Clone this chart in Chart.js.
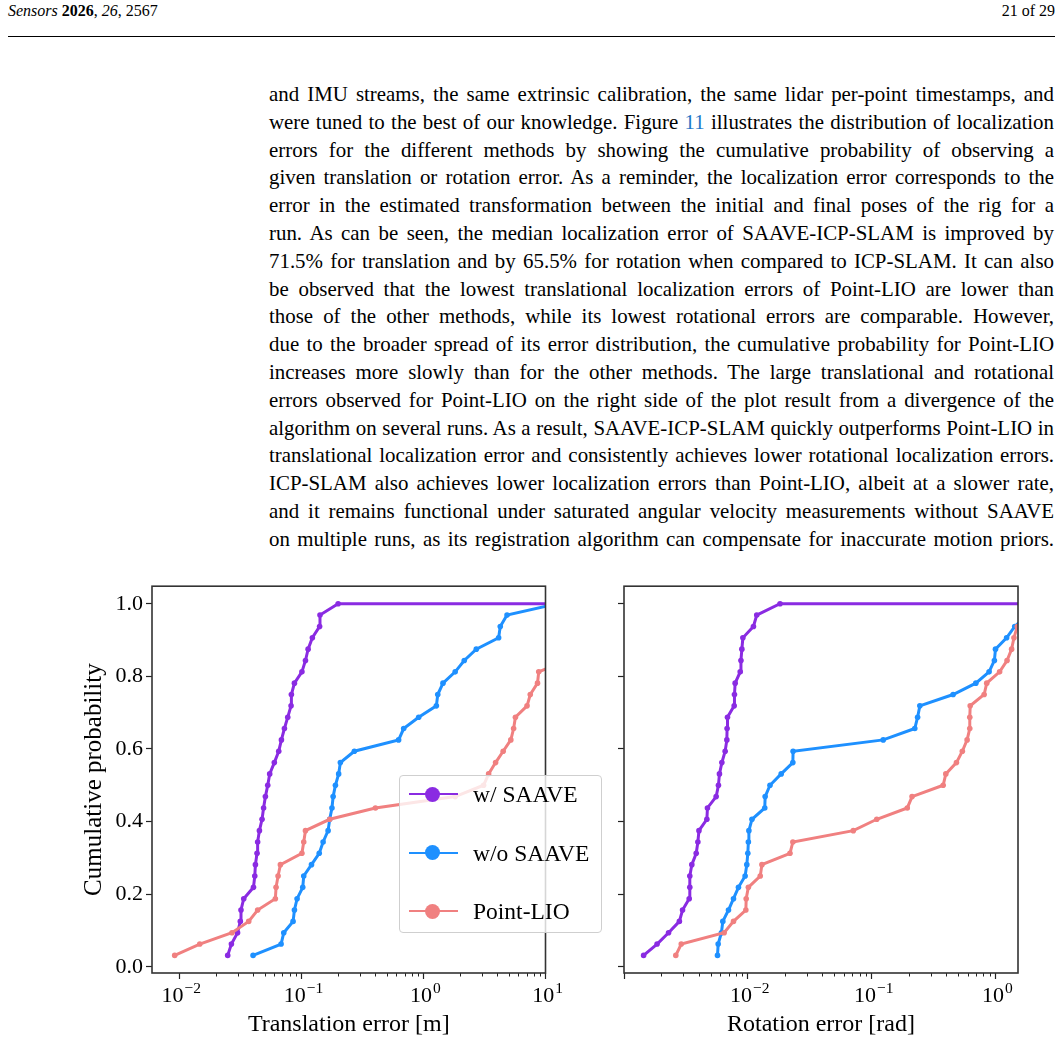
<!DOCTYPE html>
<html><head><meta charset="utf-8">
<script src="https://cdn.jsdelivr.net/npm/chart.js@4/dist/chart.umd.min.js"></script>
<style>
html,body{margin:0;padding:0;background:#fff;}
body{width:1063px;height:1041px;position:relative;overflow:hidden;font-family:"Liberation Serif","Times New Roman",serif;color:#000;}
#hdrL{position:absolute;left:8px;top:2px;font-size:16px;}
#hdrR{position:absolute;right:8px;top:2px;font-size:16px;}
#rule{position:absolute;left:8px;top:36px;width:1047px;height:0;border-top:1.3px solid #000;}
#para{position:absolute;left:269px;top:81px;width:785px;font-size:19.3px;line-height:27.8px;}
#para div{text-align:justify;text-align-last:justify;}
.lnk{color:#1f78c8;}
canvas{position:absolute;}
#c1{left:79px;top:570px;}
#c2{left:570px;top:570px;}
#legend{position:absolute;left:399px;top:775px;width:201px;height:156px;border:1px solid #cfcfcf;border-radius:4px;background:rgba(255,255,255,0.8);z-index:5;}
.lrow{position:absolute;left:0;width:100%;height:0;}
.lline{position:absolute;left:9px;width:49px;height:2px;top:-1px;}
.ldot{position:absolute;left:25px;width:15px;height:15px;border-radius:50%;top:-7.5px;}
.ltxt{position:absolute;left:73px;top:-14px;font-size:23.5px;line-height:28px;white-space:nowrap;}
.xtl{position:absolute;transform:translateX(-50%);font-size:22px;line-height:24px;white-space:nowrap;}
.xtl .ex{position:relative;top:-9px;font-size:15.5px;margin-left:1px;}
</style></head>
<body>
<div id="hdrL"><i>Sensors</i> <b>2026</b>, <i>26</i>, 2567</div>
<div id="hdrR">21 of 29</div>
<div id="rule"></div>
<div id="para">
<div>and IMU streams, the same extrinsic calibration, the same lidar per-point timestamps, and</div>
<div>were tuned to the best of our knowledge. Figure <span class="lnk">11</span> illustrates the distribution of localization</div>
<div>errors for the different methods by showing the cumulative probability of observing a</div>
<div>given translation or rotation error. As a reminder, the localization error corresponds to the</div>
<div>error in the estimated transformation between the initial and final poses of the rig for a</div>
<div>run. As can be seen, the median localization error of SAAVE-ICP-SLAM is improved by</div>
<div>71.5% for translation and by 65.5% for rotation when compared to ICP-SLAM. It can also</div>
<div>be observed that the lowest translational localization errors of Point-LIO are lower than</div>
<div>those of the other methods, while its lowest rotational errors are comparable. However,</div>
<div>due to the broader spread of its error distribution, the cumulative probability for Point-LIO</div>
<div>increases more slowly than for the other methods. The large translational and rotational</div>
<div>errors observed for Point-LIO on the right side of the plot result from a divergence of the</div>
<div>algorithm on several runs. As a result, SAAVE-ICP-SLAM quickly outperforms Point-LIO in</div>
<div>translational localization error and consistently achieves lower rotational localization errors.</div>
<div>ICP-SLAM also achieves lower localization errors than Point-LIO, albeit at a slower rate,</div>
<div>and it remains functional under saturated angular velocity measurements without SAAVE</div>
<div>on multiple runs, as its registration algorithm can compensate for inaccurate motion priors.</div>
</div>
<canvas id="c1" width="487" height="469"></canvas>
<canvas id="c2" width="493" height="469"></canvas>
<div id="legend"></div>
<script>
// ---- data ----
const seriesNames = ['w/ SAAVE', 'w/o SAAVE', 'Point-LIO'];
const seriesColors = ['#8a2be2', '#1e90ff', '#f08080'];
const cumProb = [0.0313,0.0625,0.0938,0.125,0.1563,0.1875,0.2188,0.25,0.2813,0.3125,0.3438,0.375,0.4063,0.4375,0.4688,0.5,
                 0.5313,0.5625,0.5938,0.625,0.6563,0.6875,0.7188,0.75,0.7813,0.8125,0.8438,0.875,0.9063,0.9375,0.9688,1.0];
const transSaave = [0.0249,0.0267,0.030,0.0316,0.032,0.0337,0.0405,0.0415,0.042,0.0433,0.0438,0.0453,0.0476,0.049,0.0507,0.053,
                    0.055,0.060,0.0652,0.0686,0.0726,0.0773,0.0823,0.0828,0.0877,0.101,0.108,0.1135,0.123,0.141,0.142,0.2];
const transNoSaave = [0.0402,0.0682,0.0717,0.0855,0.0877,0.0922,0.1026,0.1045,0.121,0.140,0.1506,0.1655,0.1706,0.178,0.182,0.19,
                      0.202,0.2086,0.2716,0.626,0.689,0.914,1.276,1.31,1.446,1.82,2.16,2.71,4.13,4.26,4.84,12.3];
const transPointLio = [0.00916,0.0147,0.027,0.037,0.0438,0.0612,0.062,0.0644,0.0673,0.101,0.1045,0.108,0.1706,0.404,1.82,3.11,
                       3.42,3.9,4.5,5.2,5.48,5.67,7.06,7.5,8.6,8.8,15,18,22,27,32,38];
const transCdfEnd = 40;   // largest translation error: every curve stays at 1.0 up to it
const rotSaave = [0.00144,0.00185,0.00229,0.0028,0.00297,0.00336,0.0034,0.0034,0.00353,0.00383,0.00395,0.00403,0.00467,0.00472,0.00555,0.00579,
                  0.0059,0.00617,0.00656,0.00677,0.0068,0.00685,0.00776,0.0078,0.0079,0.00868,0.0088,0.00895,0.00912,0.0111,0.0118,0.0182];
const rotNoSaave = [0.00569,0.00576,0.00612,0.00628,0.00698,0.00766,0.0084,0.00951,0.00981,0.0100,0.0101,0.0102,0.0108,0.0137,0.0138,0.0151,
                    0.0186,0.0231,0.0232,0.124,0.223,0.235,0.245,0.455,0.694,0.888,0.98,1.0,1.23,1.43,1.8,2.08];
const rotPointLio = [0.00262,0.0029,0.00644,0.00766,0.00964,0.0097,0.0101,0.0126,0.013,0.0219,0.0231,0.0711,0.11,0.194,0.212,0.378,
                     0.397,0.484,0.54,0.59,0.62,0.62,0.625,0.81,0.85,1.08,1.24,1.35,1.41,1.5,1.8,2.0];
const rotCdfEnd = 2.1;    // largest rotation error
const yTickValues = [0, 0.2, 0.4, 0.6, 0.8, 1.0];
const transMajorTicks = [0.01, 0.1, 1, 10];
const transTickExp = ['\u22122', '\u22121', '0', '1'];
const rotMajorTicks = [0.001, 0.01, 0.1, 1];
const rotTickExp = ['', '\u22122', '\u22121', '0'];
const minorMultipliers = [2,3,4,5,6,7,8,9];
const transRange = [0.00597, 10];
const rotRange = [0.0010, 1.52];
const yRange = [-0.0172, 1.0484];

const FONT = '"Liberation Serif","Times New Roman",serif';

// fit paragraph font so the widest line just fits
(function fitPara() {
  const para = document.getElementById('para');
  const lines = [...para.children];
  lines.forEach(d => { d.style.display = 'inline-block'; d.style.whiteSpace = 'nowrap'; });
  const maxW = Math.max(...lines.map(d => d.getBoundingClientRect().width));
  const fs = Math.min(21, 19.3 * 781 / maxW);
  lines.forEach(d => { d.style.display = ''; d.style.whiteSpace = ''; });
  para.style.fontSize = fs + 'px';
})();

function makeDatasets(seriesList, cdfEnd) {
  return seriesList.map((vals, i) => {
    const pts = vals.map((v, j) => ({x: v, y: cumProb[j]}));
    pts.push({x: cdfEnd, y: cumProb[cumProb.length - 1]});
    return {
      label: seriesNames[i],
      data: pts,
      borderColor: seriesColors[i],
      backgroundColor: seriesColors[i],
      pointBackgroundColor: seriesColors[i],
      pointBorderWidth: 0,
      pointRadius: c => c.dataIndex === pts.length - 1 ? 0 : 2.8,
      borderWidth: 3,
      tension: 0,
      order: 3 - i
    };
  });
}

const framePlugin = {
  id: 'frame',
  afterDraw(chart) {
    const {ctx, chartArea: a} = chart;
    const xs = chart.scales.x;
    ctx.save();
    ctx.strokeStyle = '#222';
    ctx.lineWidth = 1;
    chart.options.custom.majors.forEach(m => {
      minorMultipliers.forEach(k => {
        const v = m * k;
        if (v > xs.min && v < xs.max) {
          const px = Math.round(xs.getPixelForValue(v)) + 0.5;
          ctx.beginPath(); ctx.moveTo(px, a.bottom); ctx.lineTo(px, a.bottom + 3.5); ctx.stroke();
        }
      });
    });
    ctx.strokeStyle = '#333';
    ctx.lineWidth = 1.6;
    ctx.strokeRect(a.left, a.top, a.right - a.left, a.bottom - a.top);
    ctx.restore();
  }
};

function makeChart(id, seriesList, cdfEnd, xRange, majors, xTitle, showY, yWidth, padRight) {
  return new Chart(document.getElementById(id), {
    type: 'line',
    data: { datasets: makeDatasets(seriesList, cdfEnd) },
    plugins: [framePlugin],
    options: {
      custom: { majors: majors },
      responsive: false,
      animation: false,
      devicePixelRatio: 1,
      layout: { padding: { top: 10, right: padRight, left: 0, bottom: 0 } },
      plugins: { legend: { display: false }, tooltip: { enabled: false } },
      scales: {
        x: {
          type: 'logarithmic',
          min: xRange[0], max: xRange[1],
          afterBuildTicks: s => { s.ticks = majors.filter(v => v >= xRange[0] && v <= xRange[1]).map(v => ({value: v, major: true})); },
          afterFit: s => { s.height = 66; },
          ticks: { autoSkip: false, maxRotation: 0, padding: 2, color: '#000', font: { family: FONT, size: 22 }, callback: () => '' },
          grid: { drawOnChartArea: false, drawTicks: true, tickLength: 6, tickColor: '#222', tickWidth: 1.2 },
          border: { display: false },
          title: { display: true, text: xTitle, color: '#000', font: { family: FONT, size: 24 }, padding: { top: 0, bottom: 0 } }
        },
        y: {
          type: 'linear',
          min: yRange[0], max: yRange[1],
          afterBuildTicks: s => { s.ticks = yTickValues.map(v => ({value: v})); },
          afterFit: s => { s.width = yWidth; },
          ticks: { padding: 3, color: '#000', font: { family: FONT, size: 22 }, callback: (v) => showY ? v.toFixed(1) : '' },
          grid: { drawOnChartArea: false, drawTicks: true, tickLength: 6, tickColor: '#222', tickWidth: 1.2 },
          border: { display: false },
          title: { display: showY, text: 'Cumulative probability', color: '#000', font: { family: FONT, size: 25 }, padding: { top: 0, bottom: 0 } }
        }
      }
    }
  });
}

// x tick labels as HTML text (10 with superscript), placed with the chart's own scale
function addTickLabels(chart, canvasId, majors, exps) {
  const cv = document.getElementById(canvasId);
  const cl = parseFloat(getComputedStyle(cv).left), ct = parseFloat(getComputedStyle(cv).top);
  const xs = chart.scales.x, a = chart.chartArea;
  majors.forEach((v, i) => {
    if (!exps[i] || v < xs.min || v > xs.max * 1.0001) return;
    const d = document.createElement('div');
    d.className = 'xtl';
    d.innerHTML = '10<span class="ex">' + exps[i] + '</span>';
    d.style.left = (cl + xs.getPixelForValue(v) + 2) + 'px';
    d.style.top = (ct + a.bottom + 10) + 'px';
    document.body.appendChild(d);
  });
}

const ch1 = makeChart('c1', [transSaave, transNoSaave, transPointLio], transCdfEnd, transRange, transMajorTicks, 'Translation error [m]', true, 73, 20.5);
const ch2 = makeChart('c2', [rotSaave, rotNoSaave, rotPointLio], rotCdfEnd, rotRange, rotMajorTicks, 'Rotation error [rad]', false, 54, 45);
addTickLabels(ch1, 'c1', transMajorTicks, transTickExp);
addTickLabels(ch2, 'c2', rotMajorTicks, rotTickExp);

// legend
const lg = document.getElementById('legend');
const rowCenters = [18, 76.5, 135];
seriesNames.forEach((n, i) => {
  const r = document.createElement('div');
  r.className = 'lrow';
  r.style.top = rowCenters[i] + 'px';
  r.innerHTML = '<div class="lline" style="background:' + seriesColors[i] + '"></div>' +
                '<div class="ldot" style="background:' + seriesColors[i] + '"></div>' +
                '<div class="ltxt">' + n + '</div>';
  lg.appendChild(r);
});
</script>
</body></html>
